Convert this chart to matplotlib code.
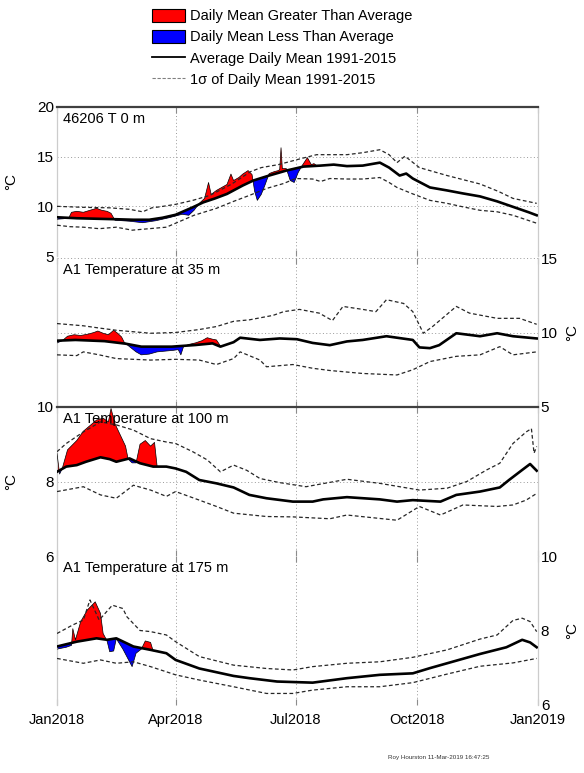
import numpy as np
import matplotlib.pyplot as plt
import matplotlib.dates as mdates
from matplotlib.patches import Patch
from matplotlib.lines import Line2D

plt.rcParams['font.family'] = ['Liberation Sans', 'DejaVu Sans']

START = np.datetime64('2018-01-01')

# 46206 T 0 m  (days since 1 Jan 2018, deg C)
sfc_mean_days = [0, 15, 30, 45, 58, 70, 80, 90, 103, 111, 120, 129, 141, 149, 161, 174, 187, 200, 210, 220, 232, 245, 252, 260, 265, 270, 283, 296, 308, 321, 334, 346, 358, 364]
sfc_mean = [8.9, 8.8, 8.75, 8.7, 8.65, 8.65, 8.85, 9.15, 9.9, 10.4, 10.8, 11.25, 12.1, 12.6, 13.1, 13.6, 14.0, 14.1, 14.2, 14.05, 14.1, 14.4, 13.9, 13.1, 13.3, 12.8, 11.9, 11.6, 11.3, 11.0, 10.5, 9.95, 9.4, 9.1]
sfc_up_days = [0, 20, 40, 55, 65, 72, 78, 90, 103, 116, 132, 147, 155, 168, 185, 197, 207, 220, 232, 245, 252, 258, 264, 275, 296, 321, 335, 346, 364]
sfc_up = [10.0, 9.9, 9.85, 9.7, 9.45, 9.85, 9.95, 10.2, 10.6, 11.1, 12.2, 13.5, 13.9, 14.2, 14.8, 15.2, 15.2, 15.2, 15.4, 15.7, 15.2, 14.4, 15.05, 13.9, 13.1, 12.25, 11.5, 10.8, 10.3]
sfc_lo_days = [0, 10, 20, 32, 45, 57, 70, 83, 90, 104, 121, 134, 146, 159, 172, 181, 194, 200, 207, 220, 232, 245, 252, 258, 270, 283, 296, 308, 321, 334, 346, 364]
sfc_lo = [8.1, 7.95, 7.9, 7.75, 7.9, 7.6, 7.75, 7.9, 8.3, 9.1, 9.8, 10.5, 11.1, 11.8, 12.3, 12.8, 12.75, 12.5, 12.8, 12.75, 12.75, 12.9, 12.4, 11.9, 11.25, 10.6, 10.3, 9.95, 9.6, 9.45, 9.1, 8.3]
sfc_obs_days = [0, 5, 9, 11, 15, 20, 25, 30, 34, 38, 41, 44, 55, 65, 75, 85, 95, 100, 104, 108, 112, 115, 117, 121, 125, 129, 132, 134, 138, 141, 145, 148, 150, 152, 155, 158, 161, 165, 168, 169, 170, 171, 174, 177, 180, 183, 186, 190, 193, 195, 197]
sfc_obs = [8.7, 8.75, 8.85, 9.4, 9.5, 9.4, 9.6, 9.8, 9.6, 9.5, 9.3, 8.6, 8.5, 8.35, 8.55, 8.85, 9.2, 9.1, 9.6, 10.3, 10.8, 12.4, 11.2, 11.6, 11.9, 12.2, 13.25, 12.6, 12.9, 13.25, 13.6, 13.2, 11.5, 10.6, 11.2, 12.2, 13.3, 13.5, 13.6, 13.7, 15.9, 13.8, 13.8, 12.6, 12.4, 13.4, 14.1, 14.9, 14.2, 14.3, 14.1]

# A1 35 m
m35_mean_days = [0, 14, 36, 52, 64, 87, 105, 118, 124, 134, 139, 154, 169, 182, 194, 207, 220, 232, 250, 270, 275, 283, 290, 303, 321, 334, 346, 364]
m35_mean = [9.45, 9.5, 9.42, 9.25, 9.05, 9.05, 9.16, 9.27, 9.05, 9.35, 9.65, 9.5, 9.6, 9.55, 9.3, 9.15, 9.4, 9.5, 9.75, 9.5, 9.0, 8.95, 9.15, 9.95, 9.75, 9.95, 9.75, 9.6]
m35_up_days = [0, 20, 32, 45, 71, 90, 108, 121, 134, 146, 164, 172, 184, 199, 209, 217, 232, 242, 250, 263, 270, 278, 285, 303, 313, 334, 351, 364]
m35_up = [10.6, 10.45, 10.3, 10.15, 9.95, 10.0, 10.2, 10.4, 10.75, 10.85, 11.15, 11.4, 11.55, 11.3, 10.8, 11.75, 11.55, 11.4, 12.2, 11.95, 11.4, 9.95, 10.4, 11.75, 11.3, 10.95, 10.95, 10.55]
m35_lo_days = [0, 15, 20, 32, 45, 71, 90, 108, 121, 134, 139, 154, 159, 179, 194, 207, 232, 258, 270, 283, 303, 321, 336, 346, 364]
m35_lo = [8.5, 8.45, 8.7, 8.5, 8.25, 8.15, 8.2, 8.15, 7.85, 8.25, 8.7, 8.15, 7.7, 7.85, 7.6, 7.45, 7.25, 7.15, 7.5, 8.05, 8.4, 8.5, 9.05, 8.5, 8.7]
m35_obs_days = [0, 4, 8, 13, 18, 24, 28, 31, 35, 39, 43, 46, 49, 51, 55, 60, 64, 70, 76, 82, 88, 92, 94, 96, 100, 105, 110, 114, 118, 121, 124]
m35_obs = [9.3, 9.45, 9.75, 9.85, 9.8, 9.9, 10.0, 10.1, 9.95, 9.85, 10.15, 9.95, 9.7, 9.35, 9.05, 8.7, 8.5, 8.55, 8.7, 8.75, 8.8, 8.85, 8.5, 9.05, 9.2, 9.3, 9.45, 9.65, 9.55, 9.5, 9.1]

# A1 100 m
m100_mean_days = [0, 7, 15, 22, 33, 40, 45, 55, 63, 73, 83, 90, 98, 108, 121, 134, 146, 159, 179, 194, 202, 220, 245, 258, 270, 291, 303, 321, 336, 343, 353, 359, 364]
m100_mean = [8.26, 8.4, 8.44, 8.53, 8.65, 8.6, 8.53, 8.62, 8.49, 8.4, 8.4, 8.35, 8.26, 8.04, 7.95, 7.84, 7.64, 7.55, 7.46, 7.46, 7.52, 7.58, 7.52, 7.46, 7.5, 7.46, 7.64, 7.73, 7.84, 8.04, 8.31, 8.47, 8.29]
m100_up_days = [0, 7, 20, 33, 45, 58, 71, 83, 90, 103, 114, 124, 134, 144, 154, 169, 189, 220, 245, 275, 296, 311, 326, 336, 346, 356, 360, 362, 364]
m100_up = [8.8, 9.02, 9.33, 9.6, 9.52, 9.38, 9.15, 9.06, 9.02, 8.8, 8.58, 8.26, 8.44, 8.3, 8.08, 7.97, 7.86, 8.06, 7.95, 7.77, 7.82, 8.0, 8.31, 8.49, 9.02, 9.33, 9.42, 8.76, 8.94]
m100_lo_days = [0, 20, 33, 45, 58, 71, 83, 90, 108, 121, 134, 159, 179, 207, 220, 258, 275, 291, 308, 334, 346, 356, 364]
m100_lo = [7.73, 7.86, 7.64, 7.55, 7.9, 7.77, 7.6, 7.73, 7.5, 7.33, 7.15, 7.06, 7.05, 7.0, 7.1, 6.96, 7.33, 7.1, 7.37, 7.33, 7.37, 7.5, 7.68]
m100_obs_days = [0, 2, 4, 8, 15, 20, 25, 30, 35, 39, 41, 44, 48, 52, 54, 57, 60, 63, 67, 71, 74, 76]
m100_obs = [8.75, 8.2, 8.35, 8.85, 9.1, 9.35, 9.5, 9.65, 9.7, 9.6, 9.96, 9.55, 9.25, 8.95, 8.6, 8.5, 8.5, 9.0, 9.1, 8.95, 9.05, 8.4]

# A1 175 m
m175_mean_days = [0, 15, 30, 38, 45, 58, 71, 83, 90, 108, 134, 146, 167, 194, 220, 245, 270, 283, 296, 321, 341, 353, 359, 364]
m175_mean = [7.57, 7.7, 7.79, 7.75, 7.79, 7.57, 7.48, 7.39, 7.21, 6.98, 6.78, 6.72, 6.63, 6.6, 6.72, 6.81, 6.85, 6.99, 7.12, 7.37, 7.55, 7.75, 7.68, 7.55]
m175_up_days = [0, 12, 20, 25, 32, 42, 50, 53, 63, 71, 83, 90, 108, 134, 159, 179, 194, 220, 245, 270, 296, 321, 334, 346, 353, 359, 364]
m175_up = [7.92, 8.15, 8.28, 8.82, 8.28, 8.68, 8.59, 8.37, 8.0, 7.97, 7.88, 7.7, 7.3, 7.07, 6.98, 6.94, 7.03, 7.12, 7.16, 7.28, 7.48, 7.77, 7.88, 8.27, 8.33, 8.24, 7.97]
m175_lo_days = [0, 20, 33, 45, 58, 71, 90, 108, 134, 159, 179, 194, 220, 245, 270, 296, 321, 346, 364]
m175_lo = [7.25, 7.12, 7.21, 7.12, 7.16, 7.03, 6.81, 6.67, 6.49, 6.31, 6.31, 6.4, 6.49, 6.49, 6.6, 6.83, 7.04, 7.13, 7.25]
m175_obs_days = [0, 7, 11, 12, 14, 18, 23, 29, 33, 35, 38, 40, 43, 45, 50, 57, 60, 64, 67, 71, 73]
m175_obs = [7.5, 7.55, 7.6, 8.05, 7.75, 8.24, 8.55, 8.77, 8.46, 7.92, 7.72, 7.43, 7.45, 7.78, 7.5, 7.03, 7.39, 7.5, 7.72, 7.68, 7.45]

date_ticks = ['2018-01-01', '2018-04-01', '2018-07-01', '2018-10-01', '2019-01-01']
date_labels = ['Jan2018', 'Apr2018', 'Jul2018', 'Oct2018', 'Jan2019']


def to_num(days):
    d = START + np.asarray(days) * np.timedelta64(1, 'D')
    return mdates.date2num(d)


def draw_panel(ax, mean, up, lo, obs, title, ylim, yticks, side, top_line, hgrid=True):
    mdays, mvals = mean
    odays, ovals = obs
    # anomaly fill between the 2018 daily mean and the climatology
    grid = np.union1d(odays, [d for d in mdays if d <= odays[-1]])
    g_obs = np.interp(grid, odays, ovals)
    g_mean = np.interp(grid, mdays, mvals)
    gx = to_num(grid)
    ax.fill_between(gx, g_obs, g_mean, where=g_obs >= g_mean, interpolate=True,
                    color='red', lw=0, zorder=2)
    ax.fill_between(gx, g_obs, g_mean, where=g_obs < g_mean, interpolate=True,
                    color='blue', lw=0, zorder=2)
    ax.plot(to_num(odays), ovals, color='black', lw=0.5, zorder=3)

    ax.plot(to_num(up[0]), up[1], color='0.15', lw=0.9, ls=(0, (3, 2)), zorder=4)
    ax.plot(to_num(lo[0]), lo[1], color='0.15', lw=0.9, ls=(0, (3, 2)), zorder=4)
    ax.plot(to_num(mdays), mvals, color='black', lw=1.9, zorder=5)

    ax.set_xlim(to_num([0])[0], mdates.date2num(np.datetime64('2019-01-01')))
    ax.set_ylim(*ylim)
    ax.set_yticks(yticks)
    ax.set_xticks(mdates.date2num(np.array(date_ticks, dtype='datetime64[D]')))

    for x in ax.get_xticks()[1:-1]:
        ax.axvline(x, color='0.6', lw=0.7, ls=(0, (1, 2.5)), zorder=1)
    if hgrid:
        for y in yticks:
            ax.axhline(y, color='0.6', lw=0.7, ls=(0, (1, 2.5)), zorder=1)

    ax.tick_params(axis='x', direction='in', top=True, bottom=True, length=4,
                   color='0.55', labelbottom=False)
    ax.tick_params(axis='y', direction='in', length=0, labelsize=11, pad=2)
    if side == 'right':
        ax.yaxis.tick_right()
        ax.yaxis.set_label_position('right')
        ax.set_ylabel('°C', fontsize=11, labelpad=5)
    else:
        ax.set_ylabel('°C', fontsize=11, labelpad=14)

    for s in ax.spines.values():
        s.set_color('0.8')
        s.set_linewidth(0.9)
    ax.spines['bottom'].set_visible(False)
    if top_line:
        ax.spines['top'].set_color('0.25')
        ax.spines['top'].set_linewidth(1.6)
    else:
        ax.spines['top'].set_visible(False)

    ax.text(0.012, 0.965, title, transform=ax.transAxes, ha='left', va='top',
            fontsize=10.5, zorder=6)


fig = plt.figure(figsize=(5.84, 7.73), dpi=100)
W = 584.0
H = 773.0
left = 57 / W
width = (538 - 57) / W
tops = [107, 258, 407, 556]
h = 149 / H

axes = []
for t in tops:
    axes.append(fig.add_axes([left, 1 - (t + 149) / H, width, h]))

draw_panel(axes[0], (sfc_mean_days, sfc_mean), (sfc_up_days, sfc_up), (sfc_lo_days, sfc_lo),
           (sfc_obs_days, sfc_obs), '46206 T 0 m', (5, 20), [5, 10, 15, 20], 'left', True)
draw_panel(axes[1], (m35_mean_days, m35_mean), (m35_up_days, m35_up), (m35_lo_days, m35_lo),
           (m35_obs_days, m35_obs), 'A1 Temperature at 35 m', (5, 15), [5, 10, 15], 'right', False)
draw_panel(axes[2], (m100_mean_days, m100_mean), (m100_up_days, m100_up), (m100_lo_days, m100_lo),
           (m100_obs_days, m100_obs), 'A1 Temperature at 100 m', (6, 10), [6, 8, 10], 'left', True)
draw_panel(axes[3], (m175_mean_days, m175_mean), (m175_up_days, m175_up), (m175_lo_days, m175_lo),
           (m175_obs_days, m175_obs), 'A1 Temperature at 175 m', (6, 10), [6, 8, 10], 'right', False,
           hgrid=False)

axes[3].set_xticklabels(date_labels)
axes[3].tick_params(axis='x', labelbottom=True, labelsize=10.5, pad=6)

handles = [Patch(facecolor='red', edgecolor='black', lw=0.8),
           Patch(facecolor='blue', edgecolor='black', lw=0.8),
           Line2D([], [], color='black', lw=1.3),
           Line2D([], [], color='0.5', lw=0.8, ls=(0, (3, 1.5)))]
labels = ['Daily Mean Greater Than Average',
          'Daily Mean Less Than Average',
          'Average Daily Mean 1991-2015',
          '1σ of Daily Mean 1991-2015']
fig.legend(handles, labels, loc='upper left', bbox_to_anchor=(146 / W, 1 - 3 / H),
           frameon=False, fontsize=10.5, handlelength=2.3, handleheight=1.0,
           handletextpad=0.3, labelspacing=0.45, borderaxespad=0)

fig.text(388 / W, 1 - 757 / H, 'Roy Hourston 11-Mar-2019 16:47:25', fontsize=4.5,
         va='center', color='0.2')

fig.savefig('out.png', dpi=100)
